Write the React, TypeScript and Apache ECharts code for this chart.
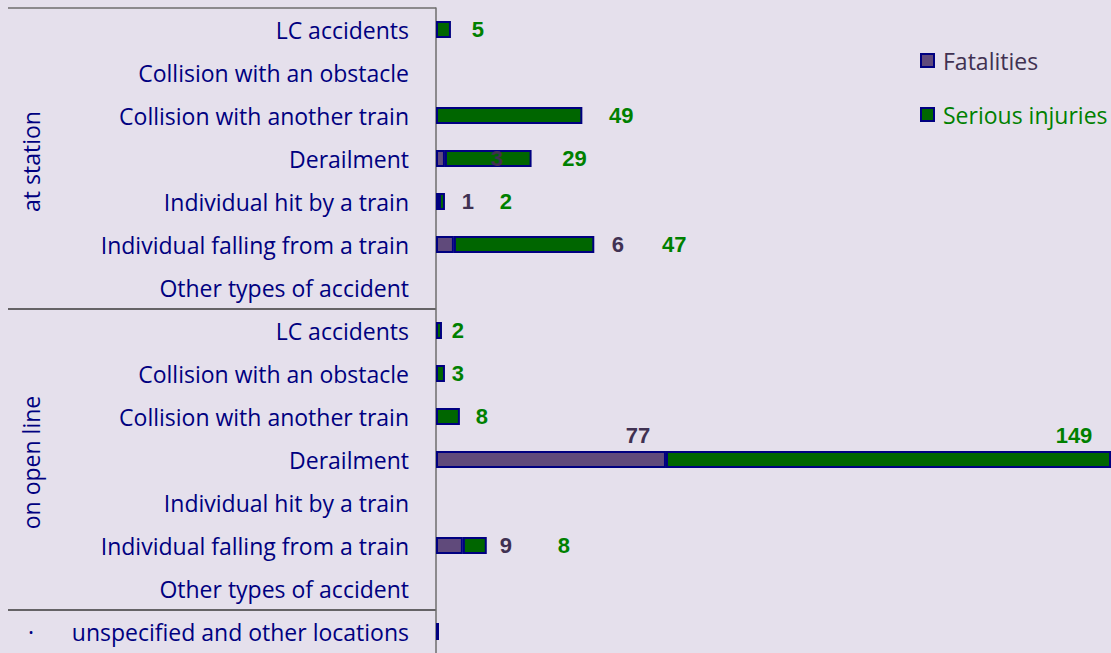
import React, { useEffect, useRef } from "react";
import * as echarts from "echarts";

const accidentTypes = [
  "LC accidents",
  "Collision with an obstacle",
  "Collision with another train",
  "Derailment",
  "Individual hit by a train",
  "Individual falling from a train",
  "Other types of accident",
];
const categories = [...accidentTypes, ...accidentTypes, "unspecified and other locations"];
const groups = [
  { name: "at station", from: 0, to: 6 },
  { name: "on open line", from: 7, to: 13 },
  { name: "·", from: 14, to: 14 },
];
const fatalities = [0, 0, 0, 3, 1, 6, 0, 0, 0, 0, 77, 0, 9, 0, 0];
const injuries = [5, 0, 49, 29, 2, 47, 0, 2, 3, 8, 149, 0, 8, 0, 1];
const showInjuryLabel = [1, 0, 1, 1, 1, 1, 0, 1, 1, 1, 1, 0, 1, 0, 0];

// label placement (pixel offsets from bar end), style only
const fatLabelDx = [0, 0, 0, 52, 29, 164, 0, 0, 0, 0, -28, 0, 43, 0, 0];
const injLabelDx = [27, 0, 39, 43, 61, 80, 0, 16, 13, 22, -37, 0, 77, 0, 0];
const labelDy = [0, 0, 0, 0, 0, 0, 0, 0, 0, 0, -24, 0, 0, 0, 0];

const FONT = "'Open Sans', 'Noto Sans', sans-serif";
const NAVY = "#000080";
const FAT_FILL = "#604a7b";
const INJ_FILL = "#006600";
const FAT_TEXT = "#403152";
const INJ_TEXT = "#008000";

export default function App() {
  const ref = useRef<HTMLDivElement>(null);
  useEffect(() => {
    if (!ref.current) return;
    const chart = echarts.init(ref.current, null, { renderer: "svg" });
    const labelBase = {
      show: true,
      position: "right",
      distance: 0,
      align: "center",
      verticalAlign: "middle",
      fontFamily: "Arial, 'Liberation Sans', sans-serif",
      fontWeight: "bold",
      fontSize: 22,
    };
    const option: any = {
      animation: false,
      backgroundColor: "#e5e0ec",
      grid: { left: 436, right: 0, top: 8, height: 648, containLabel: false },
      legend: {
        orient: "vertical",
        left: 920,
        top: 49,
        padding: 0,
        itemWidth: 13,
        itemHeight: 13,
        itemGap: 31,
        icon: "rect",
        textStyle: { fontFamily: FONT, fontSize: 23, padding: [0, 0, 0, 4] },
        data: [
          { name: "Fatalities", textStyle: { color: FAT_TEXT } },
          { name: "Serious injuries", textStyle: { color: INJ_TEXT } },
        ],
      },
      xAxis: {
        type: "value",
        min: 0,
        max: 226,
        show: false,
        splitLine: { show: false },
      },
      yAxis: {
        type: "category",
        inverse: true,
        data: categories,
        axisLine: { show: true, lineStyle: { color: "#6e6e6e", width: 1.5 } },
        axisTick: { show: false },
        axisLabel: {
          color: NAVY,
          fontFamily: FONT,
          fontSize: 23,
          margin: 27,
        },
      },
      series: [
        {
          name: "Fatalities",
          type: "bar",
          stack: "total",
          barWidth: 17,
          itemStyle: { color: FAT_FILL, borderColor: NAVY, borderWidth: 2 },
          label: { ...labelBase, color: FAT_TEXT },
          data: fatalities.map((v, i) =>
            v
              ? { value: v, label: { offset: [fatLabelDx[i], labelDy[i]] } }
              : null
          ),
        },
        {
          name: "Serious injuries",
          type: "bar",
          stack: "total",
          barWidth: 17,
          itemStyle: { color: INJ_FILL, borderColor: NAVY, borderWidth: 2 },
          label: { ...labelBase, color: INJ_TEXT },
          data: injuries.map((v, i) =>
            v
              ? {
                  value: v,
                  label: showInjuryLabel[i]
                    ? { offset: [injLabelDx[i], labelDy[i]] }
                    : { show: false },
                }
              : null
          ),
        },
      ],
    };
    chart.setOption(option);

    const yAt = (i: number) => chart.convertToPixel({ yAxisIndex: 0 }, i) as number;
    const step = yAt(1) - yAt(0);
    const axisX = chart.convertToPixel({ xAxisIndex: 0 }, 0) as number;
    const lineStyle = { stroke: "#3a3a3a", lineWidth: 1.3 };
    const graphic: any[] = [];
    const boundaries = [yAt(0) - step / 2, yAt(7) - step / 2, yAt(14) - step / 2];
    boundaries.forEach((y, k) => {
      graphic.push({
        type: "line",
        shape: { x1: 8, y1: y, x2: axisX, y2: y },
        style: k === 0 ? { stroke: "#6e6e6e", lineWidth: 1.5 } : lineStyle,
        silent: true,
      });
    });
    groups.forEach((g) => {
      const cy = (yAt(g.from) + yAt(g.to)) / 2;
      graphic.push({
        type: "text",
        x: 31,
        y: cy + (g.from === g.to ? 0 : 3),
        rotation: g.from === g.to ? 0 : Math.PI / 2,
        style: {
          text: g.name,
          fill: NAVY,
          fontFamily: FONT,
          fontSize: 23,
          align: "center",
          verticalAlign: "middle",
        },
        silent: true,
      });
    });
    chart.setOption({ graphic });

    return () => chart.dispose();
  }, []);
  return (
    <div
      ref={ref}
      style={{ position: "fixed", left: 0, top: 0, width: 1111, height: 653 }}
    />
  );
}
